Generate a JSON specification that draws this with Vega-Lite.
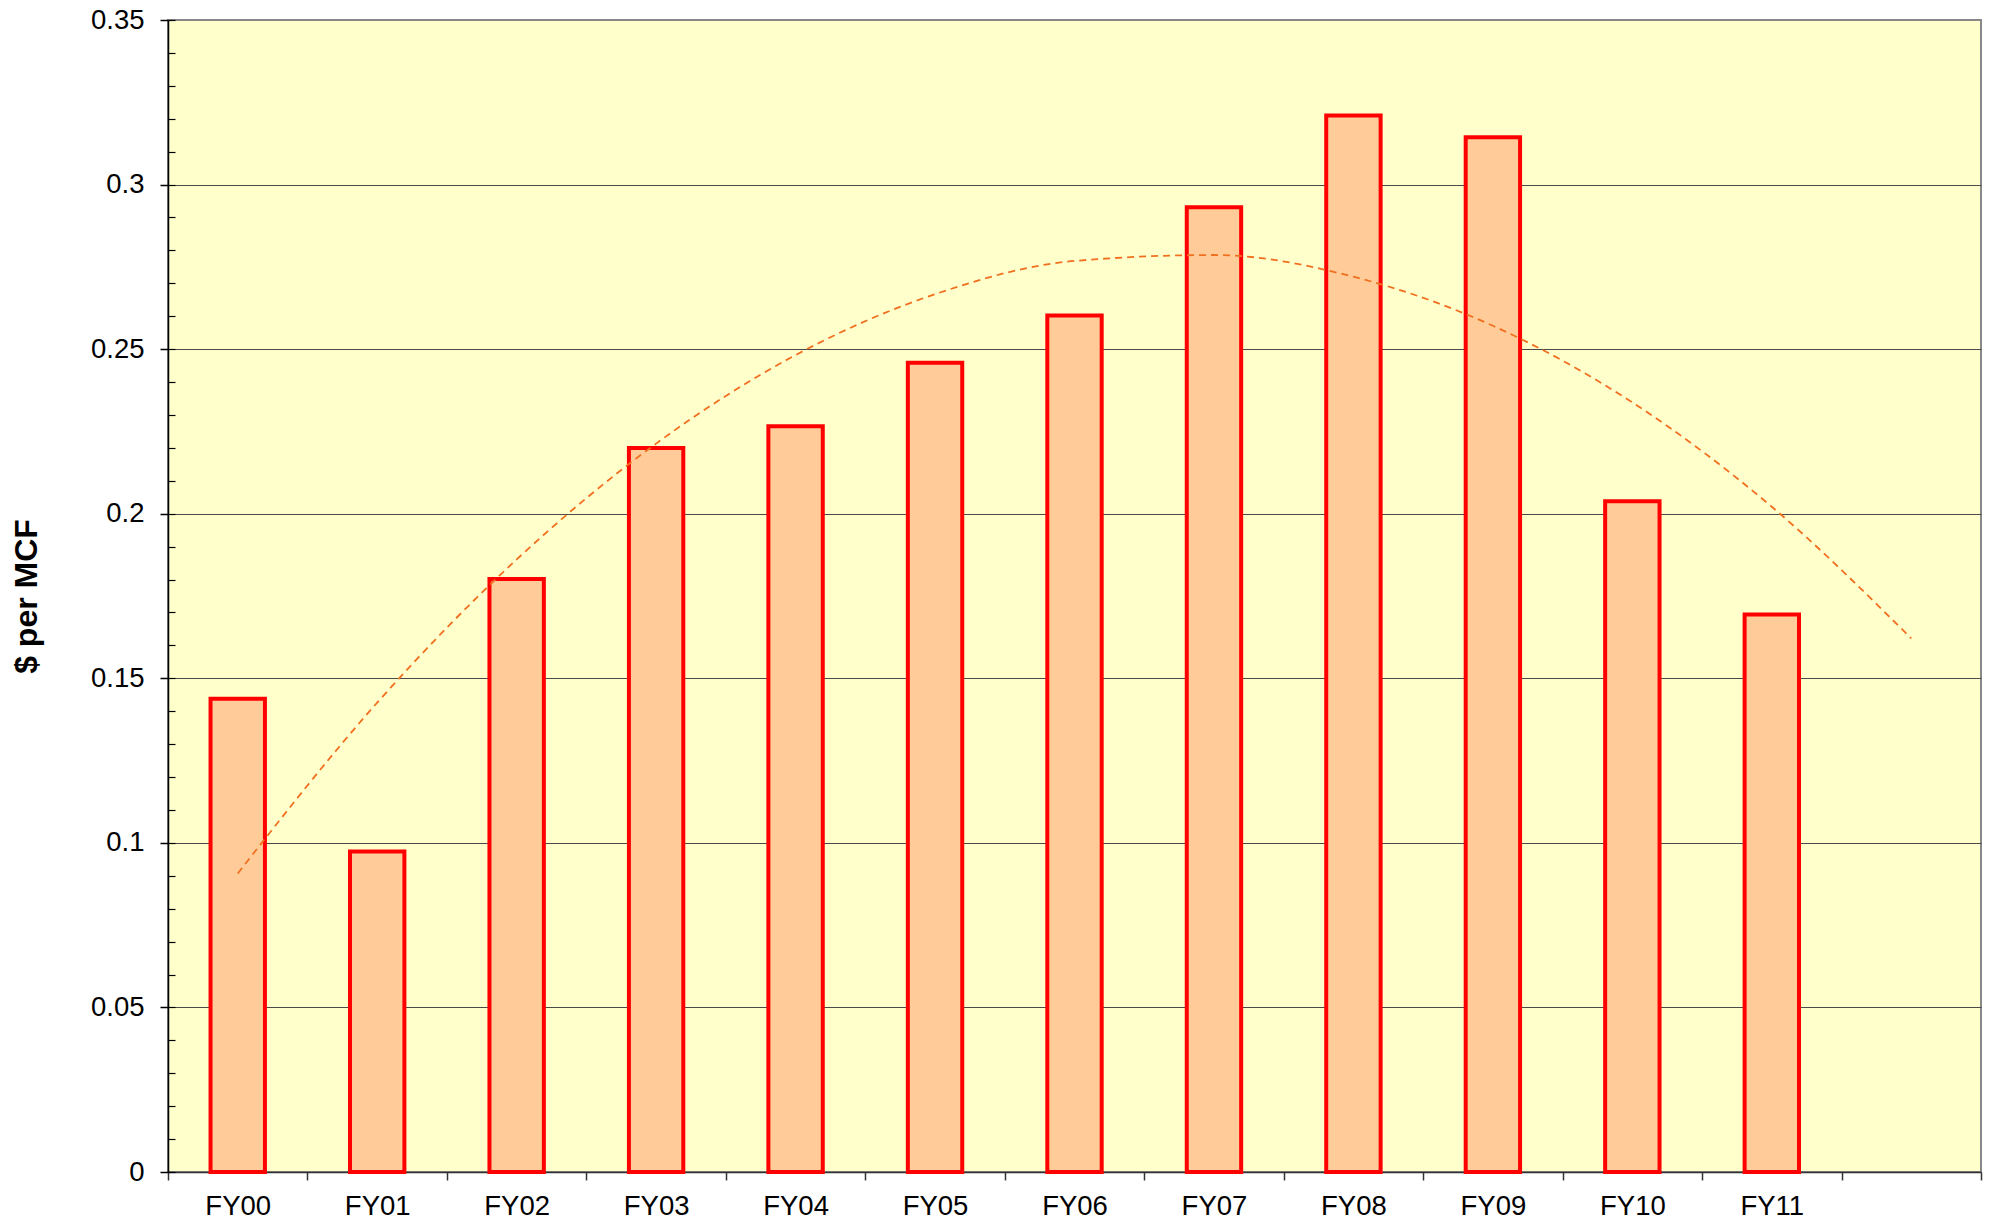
{
  "$schema": "https://vega.github.io/schema/vega-lite/v6.json",
  "width": 1813,
  "height": 1152,
  "autosize": "none",
  "padding": {"left": 168, "top": 20, "right": 13, "bottom": 51},
  "background": "white",
  "config": {
    "view": {"fill": "#FFFFCC", "stroke": "#888888", "strokeWidth": 2},
    "font": "Liberation Sans",
    "axis": {"labelFont": "Liberation Sans", "titleFont": "Liberation Sans"}
  },
  "data": {
    "values": [
      {"fy": "FY00", "value": 0.1438, "trend": 0.0907},
      {"fy": "FY01", "value": 0.0974, "trend": 0.1426},
      {"fy": "FY02", "value": 0.1802, "trend": 0.1861},
      {"fy": "FY03", "value": 0.2200, "trend": 0.2213},
      {"fy": "FY04", "value": 0.2266, "trend": 0.2482},
      {"fy": "FY05", "value": 0.2459, "trend": 0.2667},
      {"fy": "FY06", "value": 0.2602, "trend": 0.2768},
      {"fy": "FY07", "value": 0.2931, "trend": 0.2786},
      {"fy": "FY08", "value": 0.3210, "trend": 0.2720},
      {"fy": "FY09", "value": 0.3144, "trend": 0.2571},
      {"fy": "FY10", "value": 0.2038, "trend": 0.2338},
      {"fy": "FY11", "value": 0.1694, "trend": 0.2021},
      {"fy": "FY12", "value": null, "trend": 0.1621}
    ]
  },
  "layer": [
    {
      "mark": {"type": "bar", "fill": "#FFCC99", "stroke": "#FF0000", "strokeWidth": 4, "width": {"band": 0.39}},
      "encoding": {
        "x": {
          "field": "fy", "type": "nominal", "sort": null,
          "scale": {"type": "band", "paddingInner": 0, "paddingOuter": 0},
          "axis": {
            "title": null, "labelAngle": 0, "labelFontSize": 27.5, "labelColor": "#000000",
            "labelExpr": "datum.value == 'FY12' ? '' : datum.value",
            "tickBand": "extent", "tickSize": 8, "tickColor": "#333333", "tickWidth": 1.5,
            "domainColor": "#333333", "domainWidth": 1.5, "labelPadding": 12
          }
        },
        "y": {
          "field": "value", "type": "quantitative",
          "scale": {"domain": [0, 0.35], "nice": false, "zero": true},
          "axis": {
            "title": "$ per MCF", "titleFontSize": 32, "titleFontWeight": "bold", "titleColor": "#000000", "titlePadding": 47,
            "values": [0, 0.05, 0.1, 0.15, 0.2, 0.25, 0.3, 0.35],
            "format": ".2~f",
            "labelFontSize": 27.5, "labelColor": "#000000", "labelPadding": 16,
            "tickSize": 8, "tickColor": "#000000", "tickWidth": 1.5,
            "domainColor": "#000000", "domainWidth": 1.5,
            "grid": true, "gridWidth": 1.2,
            "gridColor": {"condition": {"test": "datum.value >= 0.35 || datum.value <= 0", "value": "transparent"}, "value": "#4a4a4a"}
          }
        }
      }
    },
    {
      "mark": {"type": "line", "color": "#F07020", "strokeWidth": 1.8, "strokeDash": [7, 5], "interpolate": "monotone"},
      "encoding": {
        "x": {"field": "fy", "type": "nominal", "sort": null},
        "y": {
          "field": "trend", "type": "quantitative",
          "axis": {
            "orient": "left", "title": null, "labels": false, "domain": false, "grid": false,
            "values": [0, 0.01, 0.02, 0.03, 0.04, 0.05, 0.06, 0.07, 0.08, 0.09, 0.1, 0.11, 0.12, 0.13, 0.14, 0.15, 0.16, 0.17, 0.18, 0.19, 0.2, 0.21, 0.22, 0.23, 0.24, 0.25, 0.26, 0.27, 0.28, 0.29, 0.3, 0.31, 0.32, 0.33, 0.34, 0.35],
            "tickSize": -7, "tickColor": "#000000", "tickWidth": 1.2, "offset": 0
          }
        }
      }
    }
  ],
  "resolve": {"axis": {"y": "independent"}}
}
